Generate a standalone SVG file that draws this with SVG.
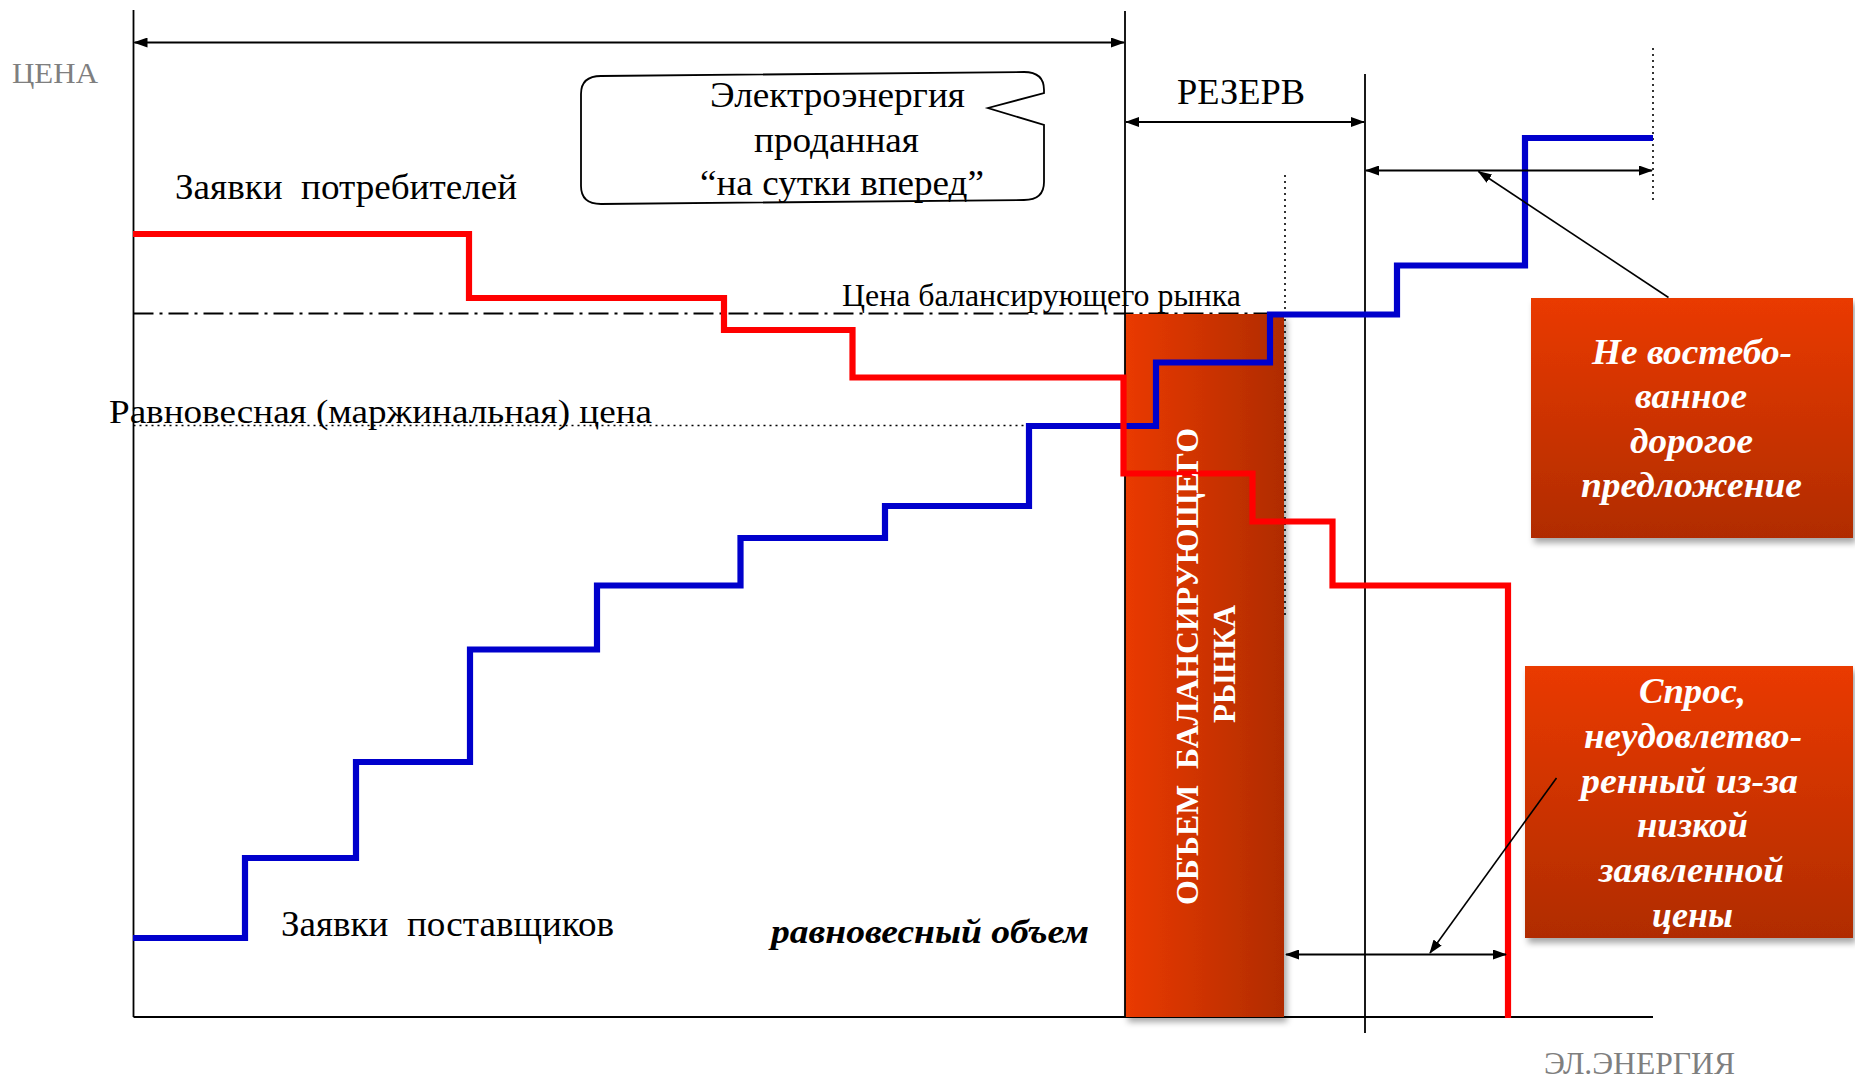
<svg xmlns="http://www.w3.org/2000/svg" width="1855" height="1078" viewBox="0 0 1855 1078">
<style>
.t{font-family:"Liberation Serif","Times New Roman",serif;fill:#000}
.g{fill:#7f7f7f}
.w{fill:#fff;font-weight:bold;font-style:italic}
.ln{stroke:#000;stroke-width:1.8;fill:none}
.ar{stroke:#000;stroke-width:1.8;fill:none;marker-start:url(#ah);marker-end:url(#ah)}
.ld{stroke:#000;stroke-width:1.6;fill:none;marker-end:url(#ah)}
.dot{stroke:#000;stroke-width:1.6;stroke-dasharray:2 4;fill:none}
</style>
<defs>
<marker id="ah" markerUnits="userSpaceOnUse" markerWidth="14" markerHeight="10" refX="13" refY="5" orient="auto-start-reverse" viewBox="0 0 14 10">
<path d="M0,0 L14,5 L0,10 Z" fill="#000"/>
</marker>
<linearGradient id="gh" x1="0" y1="0" x2="1" y2="0">
<stop offset="0" stop-color="#ea3a00"/><stop offset="1" stop-color="#b02c00"/>
</linearGradient>
<linearGradient id="gv" x1="0" y1="0" x2="0" y2="1">
<stop offset="0" stop-color="#ea3a00"/><stop offset="1" stop-color="#b02c00"/>
</linearGradient>
<filter id="sh" x="-10%" y="-10%" width="130%" height="130%">
<feDropShadow dx="3" dy="5" stdDeviation="3" flood-color="#000" flood-opacity="0.35"/>
</filter>
</defs>
<rect width="1855" height="1078" fill="#fff"/>

<g id="axes">
<line class="ln" x1="133.5" y1="10" x2="133.5" y2="1017"/>
<line class="ln" x1="133.5" y1="1017" x2="1653" y2="1017"/>
<line class="ln" x1="1365" y1="74" x2="1365" y2="1033"/>
<line class="dot" x1="1653" y1="48" x2="1653" y2="202"/>
<line stroke="#000" stroke-width="1.8" stroke-dasharray="20 6 3 6" x1="133.5" y1="313.5" x2="1268" y2="313.5"/>
<line class="dot" x1="133.5" y1="425.5" x2="1029" y2="425.5" stroke-width="1.2" stroke-dasharray="1.5 3"/>
</g>

<g id="balancing-volume">
<rect x="1125" y="314" width="159" height="703" fill="url(#gh)" filter="url(#sh)"/>
</g>
<line class="ln" x1="1125" y1="11" x2="1125" y2="1017"/>
<line class="dot" x1="1285" y1="175" x2="1285" y2="618"/>

<g id="supply-curve">
<polyline fill="none" stroke="#0000cc" stroke-width="6.2" points="133,938 245,938 245,858 356,858 356,762 470,762 470,649.5 597,649.5 597,585.5 740.5,585.5 740.5,538 885,538 885,506 1029,506 1029,426 1156,426 1156,362.5 1270,362.5 1270,314.5 1397,314.5 1397,265.5 1525,265.5 1525,138 1653,138"/>
</g>
<g id="demand-curve">
<polyline fill="none" stroke="#ff0000" stroke-width="6.2" points="133,234 469,234 469,298 724,298 724,330 852.5,330 852.5,377.5 1123.5,377.5 1123.5,473.5 1252.5,473.5 1252.5,521.5 1332.5,521.5 1332.5,585.5 1508,585.5 1508,1018"/>
</g>

<g id="balancing-volume-label">
<text class="t" font-weight="bold" font-size="32" transform="translate(1198,905) rotate(-90)" textLength="477" lengthAdjust="spacingAndGlyphs" xml:space="preserve" style="fill:#fff">ОБЪЕМ  БАЛАНСИРУЮЩЕГО</text>
<text class="t" font-weight="bold" font-size="32" transform="translate(1235,723) rotate(-90)" textLength="118" lengthAdjust="spacingAndGlyphs" style="fill:#fff">РЫНКА</text>
</g>

<g id="callout">
<path d="M601,76 L1024,72 Q1044,72 1044,90 L1044,93 L988,108 L1044,125 L1044,182 Q1044,200 1024,200 L601,204 Q581,204 581,186 L581,94 Q581,76 601,76 Z" fill="#fff" stroke="#000" stroke-width="1.8"/>
<text class="t" font-size="35" x="710" y="107" textLength="255" lengthAdjust="spacingAndGlyphs">Электроэнергия</text>
<text class="t" font-size="35" x="754" y="152" textLength="165" lengthAdjust="spacingAndGlyphs">проданная</text>
<text class="t" font-size="35" x="700" y="195" textLength="284" lengthAdjust="spacingAndGlyphs">“на сутки вперед”</text>
</g>

<g id="box-expensive">
<rect x="1531" y="298" width="322" height="240" fill="url(#gv)" filter="url(#sh)"/>
<text class="t w" font-size="36" x="1592" y="364" textLength="200" lengthAdjust="spacingAndGlyphs">Не востебо-</text>
<text class="t w" font-size="36" x="1635" y="408" textLength="112" lengthAdjust="spacingAndGlyphs">ванное</text>
<text class="t w" font-size="36" x="1630" y="453" textLength="123" lengthAdjust="spacingAndGlyphs">дорогое</text>
<text class="t w" font-size="36" x="1581" y="497" textLength="221" lengthAdjust="spacingAndGlyphs">предложение</text>
</g>

<g id="box-unmet">
<rect x="1525" y="666" width="328" height="272" fill="url(#gv)" filter="url(#sh)"/>
<text class="t w" font-size="36" x="1639" y="703" textLength="107" lengthAdjust="spacingAndGlyphs">Спрос,</text>
<text class="t w" font-size="36" x="1584" y="748" textLength="218" lengthAdjust="spacingAndGlyphs">неудовлетво-</text>
<text class="t w" font-size="36" x="1581" y="793" textLength="217" lengthAdjust="spacingAndGlyphs">ренный из-за</text>
<text class="t w" font-size="36" x="1637" y="837" textLength="111" lengthAdjust="spacingAndGlyphs">низкой</text>
<text class="t w" font-size="36" x="1599" y="882" textLength="185" lengthAdjust="spacingAndGlyphs">заявленной</text>
<text class="t w" font-size="36" x="1652" y="927" textLength="81" lengthAdjust="spacingAndGlyphs">цены</text>
</g>

<g id="labels">
<text class="t g" font-size="29" x="12" y="83" textLength="86" lengthAdjust="spacingAndGlyphs">ЦЕНА</text>
<text class="t" font-size="35" x="175" y="199" textLength="342" lengthAdjust="spacingAndGlyphs" xml:space="preserve">Заявки  потребителей</text>
<text class="t" font-size="32" x="842" y="306" textLength="399" lengthAdjust="spacingAndGlyphs">Цена балансирующего рынка</text>
<text class="t" font-size="33" x="109" y="423" textLength="543" lengthAdjust="spacingAndGlyphs">Равновесная (маржинальная) цена</text>
<text class="t" font-size="36" x="1177" y="104" textLength="128" lengthAdjust="spacingAndGlyphs">РЕЗЕРВ</text>
<text class="t" font-size="35" x="281" y="936" textLength="333" lengthAdjust="spacingAndGlyphs" xml:space="preserve">Заявки  поставщиков</text>
<text class="t" font-size="34" font-weight="bold" font-style="italic" x="771" y="943" textLength="318" lengthAdjust="spacingAndGlyphs">равновесный объем</text>
<text class="t g" font-size="31" x="1544" y="1074" textLength="191" lengthAdjust="spacingAndGlyphs">ЭЛ.ЭНЕРГИЯ</text>
</g>

<g id="connectors">
<line class="ar" x1="134.5" y1="42.5" x2="1124" y2="42.5"/>
<line class="ar" x1="1126" y1="122" x2="1364" y2="122"/>
<line class="ar" x1="1366" y1="170.5" x2="1652" y2="170.5"/>
<line class="ar" x1="1286" y1="954.5" x2="1506" y2="954.5"/>
<line class="ld" x1="1668.5" y1="297.5" x2="1478.5" y2="171.5"/>
<line class="ld" x1="1556.5" y1="778" x2="1430" y2="953"/>
</g>
</svg>
